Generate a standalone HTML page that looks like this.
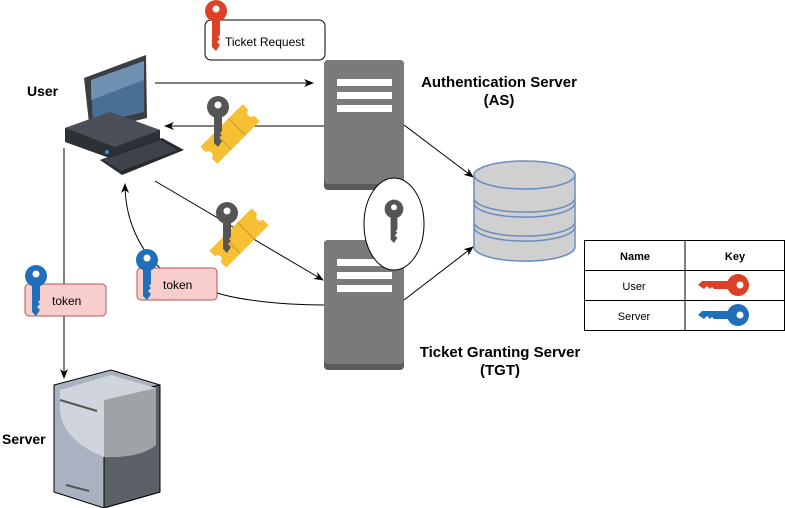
<!DOCTYPE html>
<html><head><style>
html,body{margin:0;padding:0;background:#fff;}
svg{display:block;font-family:"Liberation Sans",Arial,sans-serif;}
</style></head><body>
<svg width="785" height="508" viewBox="0 0 785 508" xmlns="http://www.w3.org/2000/svg">
<defs>
<marker id="ah" markerWidth="10" markerHeight="10" refX="9" refY="5" orient="auto" markerUnits="userSpaceOnUse">
<path d="M0,1 L10,5 L0,9 L3,5 Z" fill="#000"/>
</marker>
<g id="key">
<circle cx="0" cy="0" r="11"/>
<path d="M-4,8 L4,8 L4,24 L2,26 L4,28 L1,31 L4,34 L0,40 L-4,36 Z"/>
<circle cx="0" cy="-2" r="3.5" fill="#fff"/>
</g>
<g id="ticket">
<path d="M-30,-12 L30,-12 L30,-4 A4,4 0 0 0 30,4 L30,12 L-30,12 L-30,4 A4,4 0 0 0 -30,-4 Z" fill="#f7bf33"/>
<line x1="-10" y1="-12" x2="-10" y2="12" stroke="#c9962a" stroke-width="1"/>
<line x1="10" y1="-12" x2="10" y2="12" stroke="#c9962a" stroke-width="1"/>
</g>
</defs>

<line x1="155" y1="83" x2="313" y2="83" stroke="#000" stroke-width="1" marker-end="url(#ah)"/>
<line x1="324" y1="126" x2="165" y2="126" stroke="#000" stroke-width="1" marker-end="url(#ah)"/>
<line x1="155" y1="181" x2="323" y2="280" stroke="#000" stroke-width="1" marker-end="url(#ah)"/>
<path d="M324,305 C280,305 240,300 217,293" fill="none" stroke="#000" stroke-width="1"/>
<path d="M160,268 C140,250 125,220 125,184" fill="none" stroke="#000" stroke-width="1" marker-end="url(#ah)"/>
<line x1="64" y1="148" x2="64" y2="378" stroke="#000" stroke-width="1" marker-end="url(#ah)"/>
<line x1="404" y1="125" x2="473" y2="177" stroke="#000" stroke-width="1" marker-end="url(#ah)"/>
<line x1="404" y1="300" x2="473" y2="247" stroke="#000" stroke-width="1" marker-end="url(#ah)"/>

<rect x="205" y="20" width="120" height="40" rx="6" fill="#fff" stroke="#000" stroke-width="1"/>
<use href="#key" x="216" y="11" fill="#dc4128"/>
<text x="225" y="46" font-size="12" fill="#000">Ticket Request</text>

<rect x="324" y="60" width="80" height="130" rx="4" fill="#5a5a5a"/>
<rect x="324" y="60" width="80" height="124" rx="4" fill="#7a7a7a"/>
<rect x="337" y="79" width="55" height="7" fill="#fff"/>
<rect x="337" y="92" width="55" height="7" fill="#fff"/>
<rect x="337" y="105" width="55" height="7" fill="#fff"/>
<rect x="324" y="240" width="80" height="130" rx="4" fill="#5a5a5a"/>
<rect x="324" y="240" width="80" height="124" rx="4" fill="#7a7a7a"/>
<rect x="337" y="259" width="55" height="7" fill="#fff"/>
<rect x="337" y="272" width="55" height="7" fill="#fff"/>
<rect x="337" y="285" width="55" height="7" fill="#fff"/>

<ellipse cx="394" cy="224" rx="30" ry="46" fill="#fff" stroke="#000" stroke-width="1"/>
<g transform="translate(394,209) scale(0.85)"><use href="#key" fill="#555"/></g>

<text x="499" y="87" font-size="15" font-weight="bold" text-anchor="middle">Authentication Server</text>
<text x="499" y="105" font-size="15" font-weight="bold" text-anchor="middle">(AS)</text>
<text x="500" y="357" font-size="15" font-weight="bold" text-anchor="middle">Ticket Granting Server</text>
<text x="500" y="375" font-size="15" font-weight="bold" text-anchor="middle">(TGT)</text>
<text x="27" y="96" font-size="14" font-weight="bold">User</text>
<text x="2" y="444" font-size="14" font-weight="bold">Server</text>

<g stroke="#6c8ebf" stroke-width="1.5" fill="#d0d0d0">
<path d="M474,175 L474,247 A50,14 0 0 0 575,247 L575,175"/>
<ellipse cx="524.5" cy="175" rx="50.5" ry="14"/>
<path d="M474,198 A50,14 0 0 0 575,198" fill="none"/>
<path d="M474,203 A50,14 0 0 0 575,203" fill="none"/>
<path d="M474,222 A50,14 0 0 0 575,222" fill="none"/>
<path d="M474,227 A50,14 0 0 0 575,227" fill="none"/>
</g>

<g stroke="#000" stroke-width="1" fill="none">
<rect x="584.5" y="240.5" width="200" height="90"/>
<line x1="685" y1="240" x2="685" y2="330"/>
<line x1="584" y1="270.5" x2="785" y2="270.5"/>
<line x1="584" y1="300.5" x2="785" y2="300.5"/>
</g>
<text x="635" y="260" font-size="11" font-weight="bold" text-anchor="middle">Name</text>
<text x="735" y="260" font-size="11" font-weight="bold" text-anchor="middle">Key</text>
<text x="634" y="290" font-size="11" text-anchor="middle">User</text>
<text x="634" y="320" font-size="11" text-anchor="middle">Server</text>
<g transform="translate(738,285) rotate(90)"><use href="#key" fill="#dc4128"/></g>
<g transform="translate(738,315) rotate(90)"><use href="#key" fill="#1f70b8"/></g>

<g transform="translate(230,134) rotate(-45)"><use href="#ticket"/></g>
<use href="#key" x="218" y="107" fill="#555"/>
<g transform="translate(239,238) rotate(-45)"><use href="#ticket"/></g>
<use href="#key" x="227" y="213" fill="#555"/>

<rect x="25" y="284" width="81" height="32" rx="4" fill="#f8cecc" stroke="#b85450" stroke-width="1"/>
<use href="#key" x="36" y="276" fill="#1f70b8"/>
<text x="52" y="305" font-size="12">token</text>
<rect x="137" y="268" width="80" height="32" rx="4" fill="#f8cecc" stroke="#b85450" stroke-width="1"/>
<use href="#key" x="147" y="260" fill="#1f70b8"/>
<text x="163" y="289" font-size="12">token</text>

<g>
<polygon points="84,78 146,55 147,118 90,132" fill="#3a3d42"/>
<polygon points="91,80 144,61 144,112 93,124" fill="#4a6f96"/>
<polygon points="91,80 144,61 144,80 91,100" fill="#8aa6c4" opacity="0.6"/>
<polygon points="65,128 110,112 160,130 160,140 115,160 65,142" fill="#2d3035"/>
<polygon points="65,128 110,112 160,130 115,147" fill="#4b5058"/>
<polygon points="100,160 162,138 184,150 122,175" fill="#26292d"/>
<polygon points="103,160 160,140 178,150 121,171" fill="#3f4349"/>
<circle cx="107" cy="152" r="2" fill="#3c8fd8"/>
</g>

<g stroke="#000" stroke-width="1">
<polygon points="54,385 111,370 160,385 160,492 104,508 54,492" fill="#aab2c2"/>
<polygon points="104,397 160,385 160,492 104,508" fill="#5c6168"/>
</g>
<path d="M60,390 L111,375 L156,388 L156,445 Q140,458 104,457 Q62,440 60,410 Z" fill="#d0d4dd"/>
<path d="M104,400 L156,388 L156,445 Q140,458 104,457 Z" fill="#9ea3a6"/>
<line x1="60" y1="400" x2="97" y2="411" stroke="#555" stroke-width="2"/>
<line x1="66" y1="485" x2="89" y2="491" stroke="#555" stroke-width="2"/>
</svg>
</body></html>
